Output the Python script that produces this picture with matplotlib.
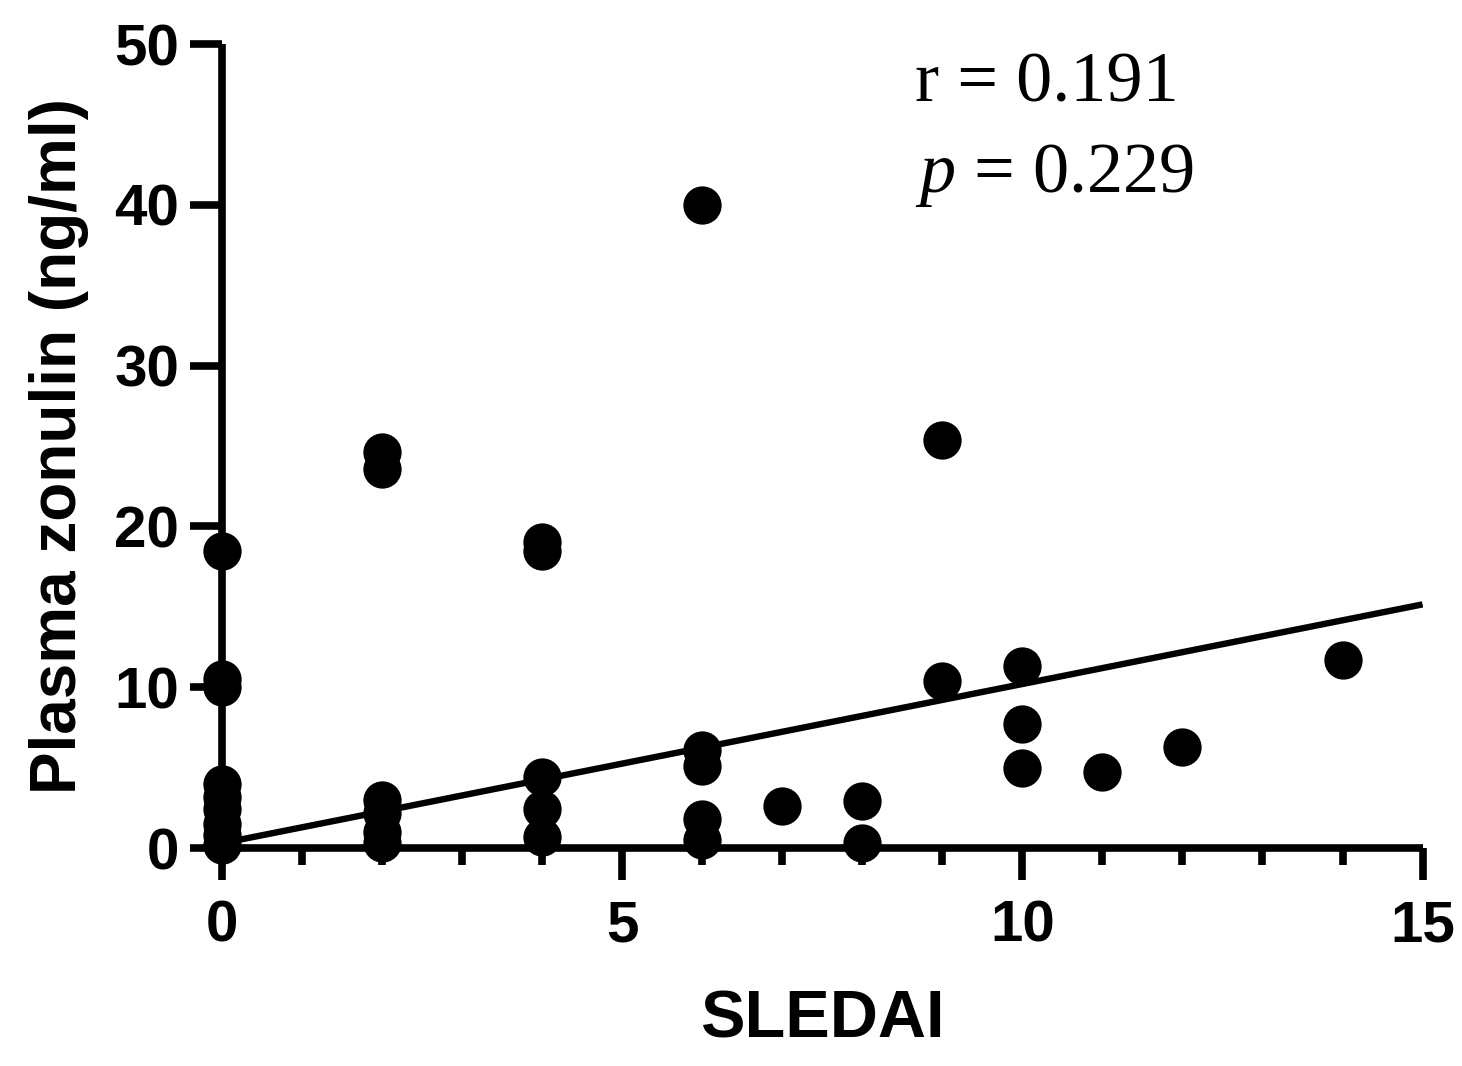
import numpy as np
import matplotlib.pyplot as plt

# SLEDAI score vs plasma zonulin (ng/ml)
sledai = [0, 0, 0, 0, 0, 0, 0, 0, 0,
          2, 2, 2, 2, 2, 2,
          4, 4, 4, 4, 4,
          6, 6, 6, 6, 6,
          7, 8, 8,
          9, 9,
          10, 10, 10,
          11, 12, 14]
zonulin = [18.5, 10.5, 10.0, 4.0, 3.2, 2.4, 1.5, 0.8, 0.2,
           24.6, 23.6, 3.0, 2.2, 1.0, 0.3,
           19.0, 18.5, 4.4, 2.4, 0.7,
           40.0, 6.1, 5.1, 1.8, 0.5,
           2.6, 2.9, 0.3,
           25.4, 10.4,
           11.3, 7.7, 5.0,
           4.7, 6.3, 11.7]

# regression line as drawn
fit_x = [0, 15]
fit_intercept = 0.3
fit_slope = 0.99

r_text = "r = 0.191"
p_value = "0.229"

plt.rcParams['font.family'] = ['Liberation Sans', 'DejaVu Sans']
plt.rcParams['mathtext.fontset'] = 'custom'
plt.rcParams['mathtext.it'] = 'Liberation Serif:italic'
plt.rcParams['mathtext.rm'] = 'Liberation Serif'

fig = plt.figure(figsize=(14.62, 10.66), dpi=100)
ax = fig.add_axes([0.152, 0.2045, 0.821, 0.7542])

ax.scatter(sledai, zonulin, s=760, color='black', zorder=3, clip_on=False,
           linewidths=0)
fy = [fit_intercept + fit_slope * v for v in fit_x]
ax.plot(fit_x, fy, color='black', lw=4.6, zorder=2, solid_capstyle='butt')

ax.set_xlim(0, 15)
ax.set_ylim(0, 50)
ax.set_xticks([0, 5, 10, 15])
ax.set_xticks(np.arange(0, 16, 1), minor=True)
ax.set_yticks([0, 10, 20, 30, 40, 50])

for s in ['top', 'right']:
    ax.spines[s].set_visible(False)
for s in ['left', 'bottom']:
    ax.spines[s].set_linewidth(5.5)
    ax.spines[s].set_capstyle('butt')

ax.tick_params(axis='both', which='major', width=5.5, length=23, labelsize=42)
ax.tick_params(axis='x', which='major', pad=14)
ax.tick_params(axis='y', which='major', pad=8)
ax.tick_params(axis='x', which='minor', width=5.5, length=12)
for lab in ax.get_xticklabels() + ax.get_yticklabels():
    lab.set_fontweight('bold')

ax.set_xlabel("SLEDAI", fontsize=48, fontweight='bold', labelpad=26)
ax.set_ylabel("Plasma zonulin (ng/ml)", fontsize=46, fontweight='bold', labelpad=18)

ax.text(8.66, 46.4, r_text, fontsize=52, family='Liberation Serif', va='baseline')
ax.text(8.66, 40.8, "$\\mathit{p}$ = " + p_value, fontsize=52, family='Liberation Serif',
        va='baseline')

fig.savefig("out.png", dpi=100)
